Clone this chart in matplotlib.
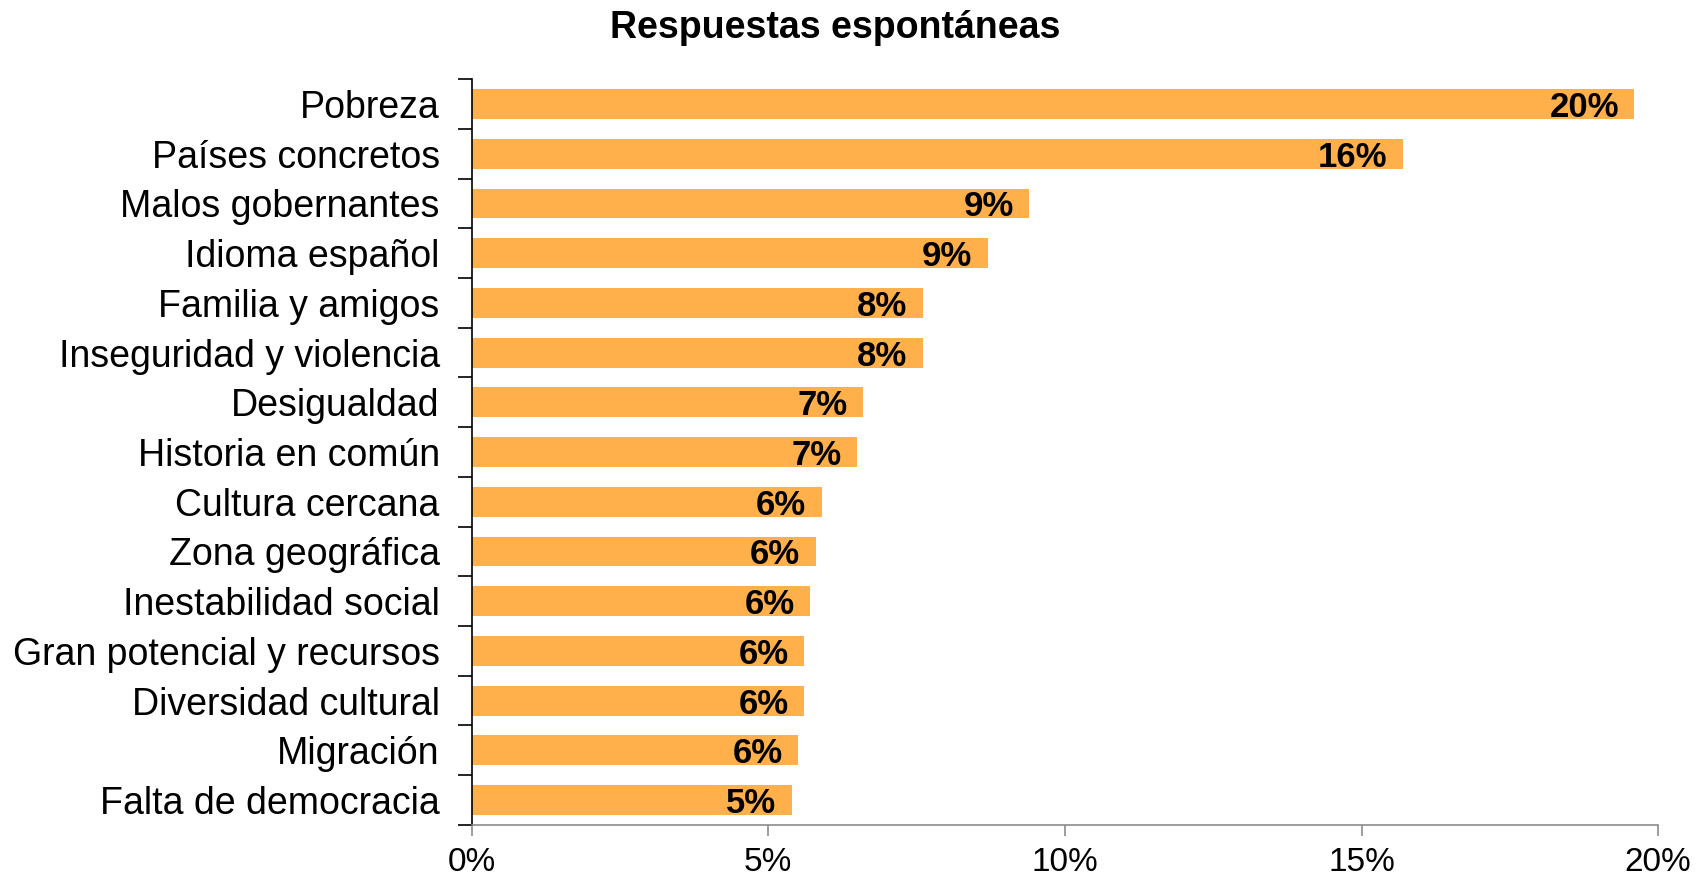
import matplotlib.pyplot as plt
import numpy as np
from matplotlib.ticker import FixedLocator, PercentFormatter

categorias = [
    "Pobreza", "Países concretos", "Malos gobernantes", "Idioma español",
    "Familia y amigos", "Inseguridad y violencia", "Desigualdad",
    "Historia en común", "Cultura cercana", "Zona geográfica",
    "Inestabilidad social", "Gran potencial y recursos",
    "Diversidad cultural", "Migración", "Falta de democracia",
]
valores = [19.6, 15.7, 9.4, 8.7, 7.6, 7.6, 6.6, 6.5, 5.9, 5.8, 5.7, 5.6, 5.6, 5.5, 5.4]
etiquetas = ["20%", "16%", "9%", "9%", "8%", "8%", "7%", "7%", "6%", "6%", "6%", "6%", "6%", "6%", "5%"]
ticks_x = [0, 5, 10, 15, 20]

plt.rcParams['font.family'] = ['Liberation Sans', 'DejaVu Sans']

fig = plt.figure(figsize=(17.01, 8.86), dpi=100)
ax = fig.add_axes([0.2773, 0.069, 0.6975, 0.8416])

y = np.arange(len(categorias))
ax.barh(y, valores, height=0.6, color='#FFB04A', edgecolor='none')

# etiquetas de valor dentro de la barra, alineadas a la derecha
for yi, v, txt in zip(y, valores, etiquetas):
    ax.text(v - 0.26, yi + 0.07, txt, ha='right', va='center', fontsize=25,
            fontweight='bold', color='black')

ax.set_ylim(len(categorias) - 0.5, -0.5)
ax.set_xlim(0, 20)
ax.set_yticks(y)
ax.set_yticklabels(categorias, fontsize=27)
ax.tick_params(axis='y', which='major', length=0, pad=23)
ax.yaxis.set_minor_locator(FixedLocator(np.arange(-0.5, len(categorias), 1)))
ax.tick_params(axis='y', which='minor', length=10, width=1.2, color='black', direction='out')

ax.set_xticks(ticks_x)
ax.xaxis.set_major_formatter(PercentFormatter(decimals=0))
ax.tick_params(axis='x', length=8, width=1.2, color='#8c8c8c', labelsize=24, pad=8, direction='out')

for s in ['top', 'right']:
    ax.spines[s].set_visible(False)
ax.spines['left'].set_color('black')
ax.spines['left'].set_linewidth(1.2)
ax.spines['bottom'].set_color('#8c8c8c')
ax.spines['bottom'].set_linewidth(1.2)

fig.text(0.491, 0.968, "Respuestas espontáneas", ha='center', va='center',
         fontsize=27, fontweight='bold')

fig.savefig("out.png", dpi=100)
